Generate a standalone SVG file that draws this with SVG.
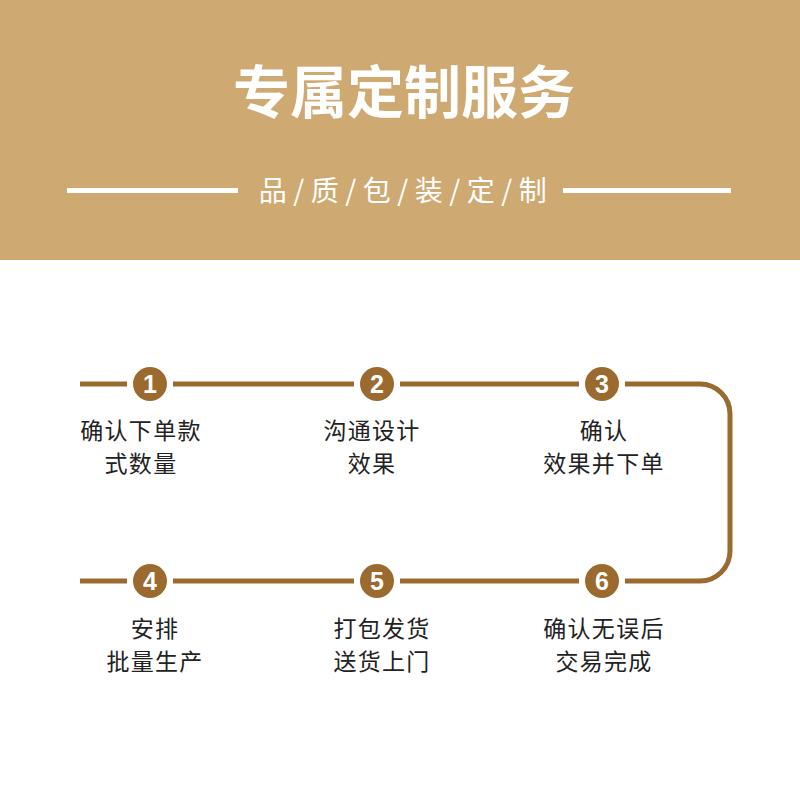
<svg xmlns="http://www.w3.org/2000/svg" width="800" height="800" viewBox="0 0 800 800">
<style>
.hdr{fill:#CFA972}
.t{font-family:"Noto Sans CJK SC","Noto Sans",sans-serif}
.title{font-size:57px;font-weight:bold;fill:#fff}
.sub{font-size:28px;fill:#fff;letter-spacing:6.5px}
.lbl{font-size:23px;fill:#222;letter-spacing:1.3px}
.circ{fill:#9B6A2F}
.num{font-family:"Liberation Sans",Arial,sans-serif;font-size:25px;font-weight:bold;fill:#fff}
.conn{fill:none;stroke:#9B6A2F;stroke-width:5}
</style>
<rect width="800" height="800" fill="#fff"/>
<g id="header">
<rect class="hdr" x="0" y="0" width="800" height="260"/>
<text class="t title" x="404" y="113" text-anchor="middle">专属定制服务</text>
<rect x="67" y="188" width="171" height="5" fill="#fff"/>
<rect x="563" y="188" width="168" height="5" fill="#fff"/>
<text class="t sub" x="406" y="201" text-anchor="middle">品/质/包/装/定/制</text>
</g>
<g id="connectors">
<path class="conn" d="M80 384 H127 M173 384 H354 M400 384 H579 M625 384 H700 A30 30 0 0 1 730 414 V551 A30 30 0 0 1 700 581 H625"/>
<path class="conn" d="M80 581 H127 M173 581 H354 M400 581 H579"/>
</g>
<g id="step1">
<circle class="circ" cx="150" cy="384" r="17"/>
<text class="num" x="150" y="393" text-anchor="middle">1</text>
<text class="t lbl" x="141" y="439" text-anchor="middle">确认下单款</text>
<text class="t lbl" x="141" y="472" text-anchor="middle">式数量</text>
</g>
<g id="step2">
<circle class="circ" cx="377" cy="384" r="17"/>
<text class="num" x="377" y="393" text-anchor="middle">2</text>
<text class="t lbl" x="372" y="439" text-anchor="middle">沟通设计</text>
<text class="t lbl" x="372" y="472" text-anchor="middle">效果</text>
</g>
<g id="step3">
<circle class="circ" cx="602" cy="384" r="17"/>
<text class="num" x="602" y="393" text-anchor="middle">3</text>
<text class="t lbl" x="604" y="439" text-anchor="middle">确认</text>
<text class="t lbl" x="604" y="472" text-anchor="middle">效果并下单</text>
</g>
<g id="step4">
<circle class="circ" cx="150" cy="581" r="17"/>
<text class="num" x="150" y="590" text-anchor="middle">4</text>
<text class="t lbl" x="155" y="637" text-anchor="middle">安排</text>
<text class="t lbl" x="155" y="670" text-anchor="middle">批量生产</text>
</g>
<g id="step5">
<circle class="circ" cx="377" cy="581" r="17"/>
<text class="num" x="377" y="590" text-anchor="middle">5</text>
<text class="t lbl" x="382" y="637" text-anchor="middle">打包发货</text>
<text class="t lbl" x="382" y="670" text-anchor="middle">送货上门</text>
</g>
<g id="step6">
<circle class="circ" cx="602" cy="581" r="17"/>
<text class="num" x="602" y="590" text-anchor="middle">6</text>
<text class="t lbl" x="604" y="637" text-anchor="middle">确认无误后</text>
<text class="t lbl" x="604" y="670" text-anchor="middle">交易完成</text>
</g>
</svg>
